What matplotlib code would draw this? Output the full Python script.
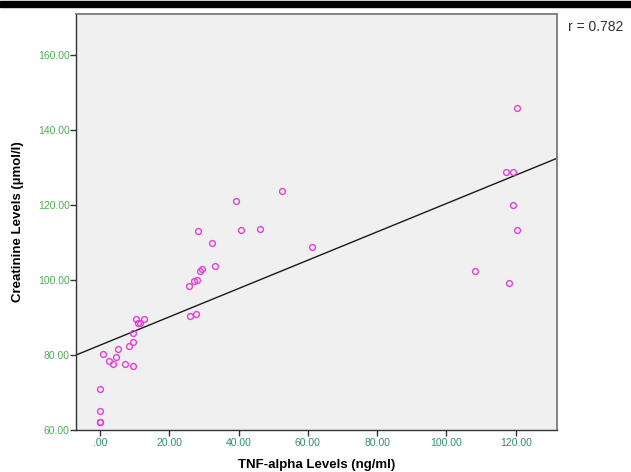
import matplotlib.pyplot as plt
import matplotlib.patches as mpatches

plt.rcParams['font.family'] = ['Liberation Sans', 'DejaVu Sans']

# TNF-alpha (ng/ml) vs creatinine (umol/l)
tnf = [0.0, 0.0, 0.0, 0.0, 1.0, 2.6, 3.8, 4.6, 5.2, 7.2, 8.3, 9.5, 9.6, 9.7,
       10.5, 11.1, 11.5, 12.6, 25.8, 26.1, 27.2, 27.8, 28.1, 28.4, 28.9, 29.6,
       32.3, 33.3, 39.4, 40.6, 46.2, 52.5, 61.2,
       108.3, 117.3, 118.1, 119.1, 119.1, 120.3, 120.5]
creat = [62.0, 62.1, 65.1, 70.9, 80.3, 78.4, 77.7, 79.6, 81.5, 77.7, 82.3, 85.9, 83.4, 77.1,
         89.7, 88.5, 88.5, 89.7, 98.5, 90.4, 99.8, 90.9, 99.9, 113.1, 102.4, 103.0,
         110.0, 103.7, 121.2, 113.4, 113.7, 123.8, 108.7,
         102.3, 128.9, 99.2, 128.9, 120.1, 113.4, 146.0]

fit_x = [-6.9, 131.9]
fit_y = [80.0, 132.5]

xticks = [0, 20, 40, 60, 80, 100, 120]
xlabels = ['.00', '20.00', '40.00', '60.00', '80.00', '100.00', '120.00']
yticks = [60, 80, 100, 120, 140, 160]
ylabels = ['60.00', '80.00', '100.00', '120.00', '140.00', '160.00']

fig = plt.figure(figsize=(6.31, 4.72), dpi=100)
ax = fig.add_axes([0.1204, 0.0890, 0.7623, 0.8813])
ax.set_facecolor('#f0f0f0')

ax.plot(fit_x, fit_y, color='#1a1a1a', linewidth=1.0, zorder=2)
ax.plot(tnf, creat, linestyle='none', marker='o', markersize=4.2,
        markerfacecolor='none', markeredgecolor='#e33fd6', markeredgewidth=1.0, zorder=3)

ax.set_xlim(-6.9, 131.9)
ax.set_ylim(60, 171.0)
ax.set_xticks(xticks)
ax.set_xticklabels(xlabels)
ax.set_yticks(yticks)
ax.set_yticklabels(ylabels)
ax.tick_params(axis='x', colors='#333333', labelcolor='#2f8f6a', labelsize=7.5,
               length=4, width=1, direction='out', pad=2)
ax.tick_params(axis='y', colors='#333333', labelcolor='#4aae55', labelsize=7.5,
               length=4, width=1, direction='out', pad=0.5)

for side in ['left', 'bottom']:
    ax.spines[side].set_color('#333333')
    ax.spines[side].set_linewidth(1.0)
for side in ['top', 'right']:
    ax.spines[side].set_color('#7a7a7a')
    ax.spines[side].set_linewidth(1.3)

ax.set_xlabel('TNF-alpha Levels (ng/ml)', fontsize=9.5, fontweight='bold', labelpad=8)
ax.set_ylabel('Creatinine Levels (µmol/l)', fontsize=9.5, fontweight='bold', labelpad=10)

fig.text(0.900, 0.942, 'r = 0.782', fontsize=10, color='#333333', va='center')

# thick black rule along the top edge
fig.patches.append(mpatches.Rectangle((0, 0.986), 1, 0.011, transform=fig.transFigure,
                                      color='black', zorder=10))

fig.savefig('out.png', dpi=100)
